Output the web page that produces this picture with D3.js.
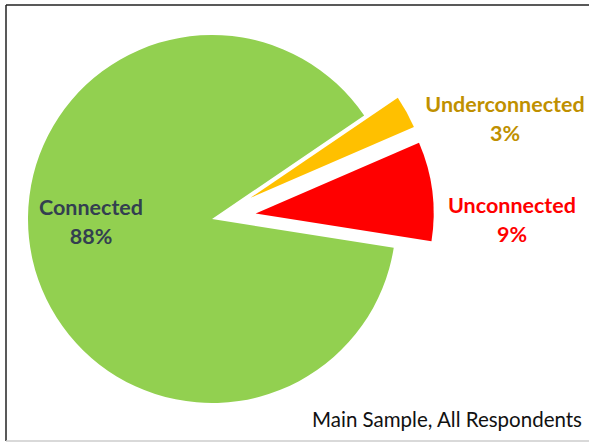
<!DOCTYPE html>
<html>
<head>
	<title>Connected pie</title>
	<script src="https://d3js.org/d3.v7.min.js"></script>
	<style>
		body{
			margin: 0;
			background: #fff;
		}
		svg{
			display: block;
			font-family: Lato, "Open Sans", sans-serif;
		}
	</style>
</head>
<body>
	<script>
		// data
		const categories = ['Connected', 'Underconnected', 'Unconnected']
		const values = [88, 3, 9]
		const colors = ['#92D050', '#FFC000', '#FF0000']
		const labelColors = ['#333F50', '#BF9000', '#FF0000']
		const footnote = 'Main Sample, All Respondents'

		const width = 589
		const height = 443
		const cx = 212, cy = 219
		const radius = 184
		const explode = [0, 44, 44]
		// where each two-line label sits: [x, baseline of first line]
		const labelPos = [[91, 215], [505, 112], [512, 213]]

		const svg = d3.select('body').append('svg')
					  .attr('width', width)
					  .attr('height', height)

		// frame
		svg.append('line').attr('x1', 6).attr('y1', 5).attr('x2', 6).attr('y2', 441)
		   .attr('stroke', '#222').attr('stroke-width', 1.5)
		svg.append('line').attr('x1', 6).attr('y1', 5).attr('x2', width).attr('y2', 5)
		   .attr('stroke', '#222').attr('stroke-width', 1.5)
		svg.append('line').attr('x1', 6).attr('y1', 441).attr('x2', width).attr('y2', 441)
		   .attr('stroke', '#ccc').attr('stroke-width', 1.5)

		const start = 99 * Math.PI / 180
		const pie = d3.pie().sort(null)
					  .startAngle(start)
					  .endAngle(start + 2 * Math.PI)
		const arc = d3.arc().innerRadius(0)
					  .outerRadius((d, i) => d.index === 0 ? radius : radius - 6)

		const slices = pie(values)
		const g = svg.append('g').attr('transform', 'translate(' + cx + ',' + cy + ')')

		g.selectAll('path').data(slices).enter()
		 .append('path')
		 .attr('d', arc)
		 .attr('fill', (d, i) => colors[i])
		 .attr('transform', (d, i) => {
			 const mid = (d.startAngle + d.endAngle) / 2
			 const dx = Math.sin(mid) * explode[i]
			 const dy = -Math.cos(mid) * explode[i]
			 return 'translate(' + dx + ',' + dy + ')'
		 })

		const labels = svg.selectAll('text.lbl').data(categories).enter()
						  .append('text')
						  .attr('class', 'lbl')
						  .attr('text-anchor', 'middle')
						  .attr('font-weight', 'bold')
						  .attr('font-size', 21.5)
						  .attr('fill', (d, i) => labelColors[i])
		labels.append('tspan')
			  .attr('x', (d, i) => labelPos[i][0])
			  .attr('y', (d, i) => labelPos[i][1])
			  .text(d => d)
		labels.append('tspan')
			  .attr('x', (d, i) => labelPos[i][0])
			  .attr('y', (d, i) => labelPos[i][1] + 29)
			  .text((d, i) => values[i] + '%')

		svg.append('text')
		   .attr('x', 582)
		   .attr('y', 427)
		   .attr('text-anchor', 'end')
		   .attr('font-size', 20.5)
		   .attr('fill', '#111')
		   .text(footnote)
	</script>
</body>
</html>
